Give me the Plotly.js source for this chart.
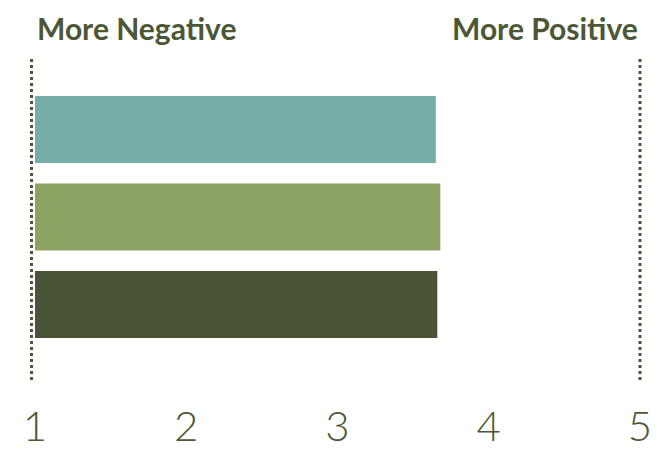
<!DOCTYPE html>
<html>
<head>
<meta charset="utf-8">
<script src="https://cdn.plot.ly/plotly-3.0.1.min.js"></script>
<style>html,body{margin:0;padding:0;background:#fff;}</style>
</head>
<body>
<div id="chart" style="width:662px;height:449px;"></div>
<script>
var categories = ["Group A", "Group B", "Group C"];
var values = [3.65, 3.68, 3.66];
var barColors = ["#76ADA9", "#8DA363", "#4A5436"];
var tickValues = [1, 2, 3, 4, 5];
var tickLabels = ["1", "2", "3", "4", "5"];
var leftLabel = "More Negative";
var rightLabel = "More Positive";

var textColor = "#4B5736";
var plotW = 662 - 35 - 22;

var trace = {
  type: "bar",
  orientation: "h",
  y: categories,
  x: values.map(function(v){ return v - 1; }),
  base: 1,
  width: 0.766,
  marker: {color: barColors},
  hoverinfo: "skip"
};

var layout = {
  width: 662,
  height: 449,
  margin: {l: 35, r: 22, t: 58, b: 69},
  paper_bgcolor: "#ffffff",
  plot_bgcolor: "#ffffff",
  showlegend: false,
  xaxis: {
    range: [1, 5],
    tickvals: tickValues,
    ticktext: tickLabels,
    showgrid: false,
    zeroline: false,
    showline: false,
    ticks: "",
    ticklabelstandoff: 18,
    tickfont: {family: "Lato", size: 42, color: textColor, weight: 300}
  },
  yaxis: {
    type: "category",
    range: [2.863, -0.817],
    showticklabels: false,
    showgrid: false,
    zeroline: false,
    showline: false,
    ticks: ""
  },
  shapes: [
    {type: "line", xref: "paper", yref: "paper", x0: -3.5 / plotW, x1: -3.5 / plotW, y0: 0, y1: 1,
     line: {color: textColor, width: 3, dash: "dot"}},
    {type: "line", xref: "paper", yref: "paper", x0: 1, x1: 1, y0: 0, y1: 1,
     line: {color: textColor, width: 3, dash: "dot"}}
  ],
  annotations: [
    {text: leftLabel, xref: "paper", yref: "paper", x: 0, y: 1, yshift: 30,
     xanchor: "left", yanchor: "middle", showarrow: false,
     font: {family: "Lato", size: 30, color: textColor, weight: 700}},
    {text: rightLabel, xref: "paper", yref: "paper", x: 1, y: 1, yshift: 30,
     xanchor: "right", yanchor: "middle", showarrow: false,
     font: {family: "Lato", size: 30, color: textColor, weight: 700}}
  ]
};

Plotly.newPlot("chart", [trace], layout, {displayModeBar: false, staticPlot: true});
</script>
</body>
</html>
